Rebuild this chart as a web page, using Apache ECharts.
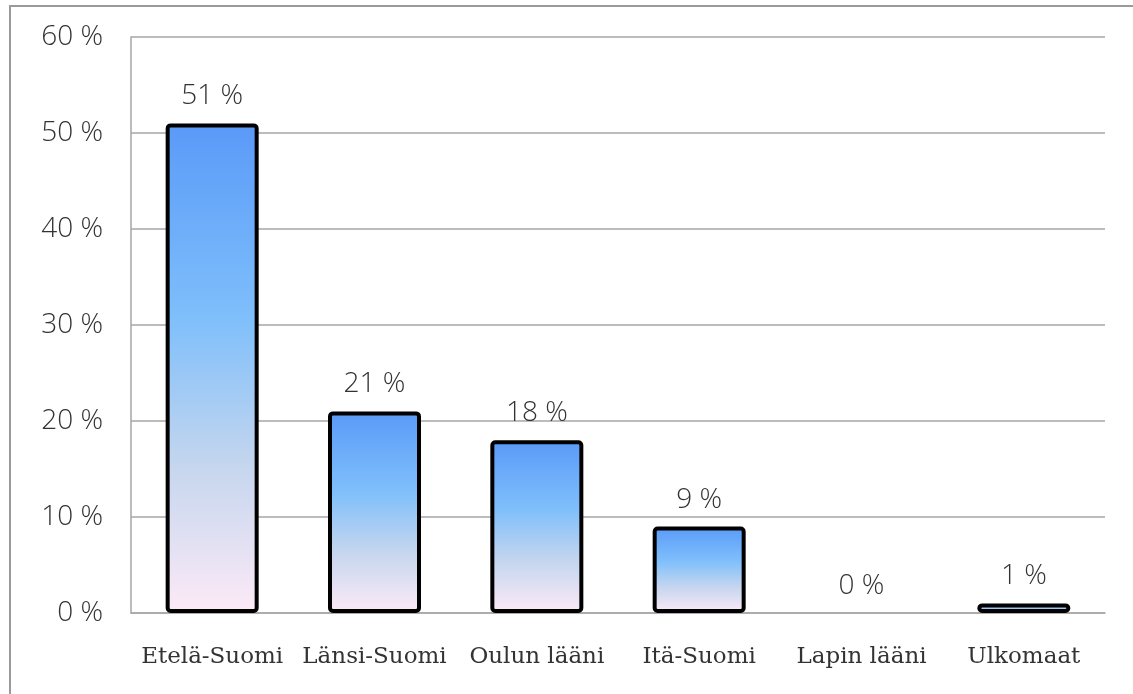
<!DOCTYPE html>
<html>
<head>
<meta charset="utf-8">
<script src="https://cdn.jsdelivr.net/npm/echarts@6/dist/echarts.min.js"></script>
<style>
html,body{margin:0;padding:0;background:#fff;}
#frame{position:absolute;left:9px;top:5px;width:1150px;height:720px;border:2px solid #9a9a9a;box-sizing:border-box;}
#chart{position:absolute;left:0;top:0;width:1133px;height:694px;}
</style>
</head>
<body>
<div id="frame"></div>
<div id="chart"></div>
<script>
const categories = ["Etelä-Suomi", "Länsi-Suomi", "Oulun lääni", "Itä-Suomi", "Lapin lääni", "Ulkomaat"];
const values = [51, 21, 18, 9, 0, 1];
const yTicks = [0, 10, 20, 30, 40, 50, 60];

const chart = echarts.init(document.getElementById('chart'));
chart.setOption({
  backgroundColor: 'transparent',
  animation: false,
  grid: {left: 131, right: 28, top: 37, bottom: 81, containLabel: false},
  xAxis: {
    type: 'category',
    data: categories,
    axisLine: {show: true, lineStyle: {color: '#a6a6a6', width: 1.5}},
    axisTick: {show: false},
    axisLabel: {interval: 0, margin: 33, color: '#333', fontFamily: 'DejaVu Serif', fontSize: 23}
  },
  yAxis: {
    type: 'value',
    min: yTicks[0], max: yTicks[yTicks.length - 1], interval: 10,
    axisLine: {show: true, lineStyle: {color: '#a6a6a6', width: 1.5}},
    axisTick: {show: false},
    splitLine: {lineStyle: {color: '#a6a6a6', width: 1.5}},
    axisLabel: {margin: 28, color: '#333', fontFamily: 'Open Sans', fontWeight: 300, fontSize: 28,
      formatter: v => v + ' %'}
  },
  series: [{
    type: 'bar',
    data: values.map(v => ({value: v, itemStyle: v === 0 ? {borderWidth: 0, opacity: 0} : {}})),
    barWidth: 93,
    itemStyle: {
      borderColor: '#000', borderWidth: 4, borderRadius: 3,
      color: {type: 'linear', x: 0, y: 0, x2: 0, y2: 1, colorStops: [
        {offset: 0, color: '#5a9af8'},
        {offset: 0.4, color: '#7fbffb'},
        {offset: 0.7, color: '#c5d6ee'},
        {offset: 1, color: '#fdeaf7'}
      ]}
    },
    label: {show: true, position: 'top', distance: 13, color: '#333', opacity: 1,
      fontFamily: 'Open Sans', fontWeight: 300, fontSize: 28, formatter: p => p.value + ' %'}
  }]
});
</script>
</body>
</html>
